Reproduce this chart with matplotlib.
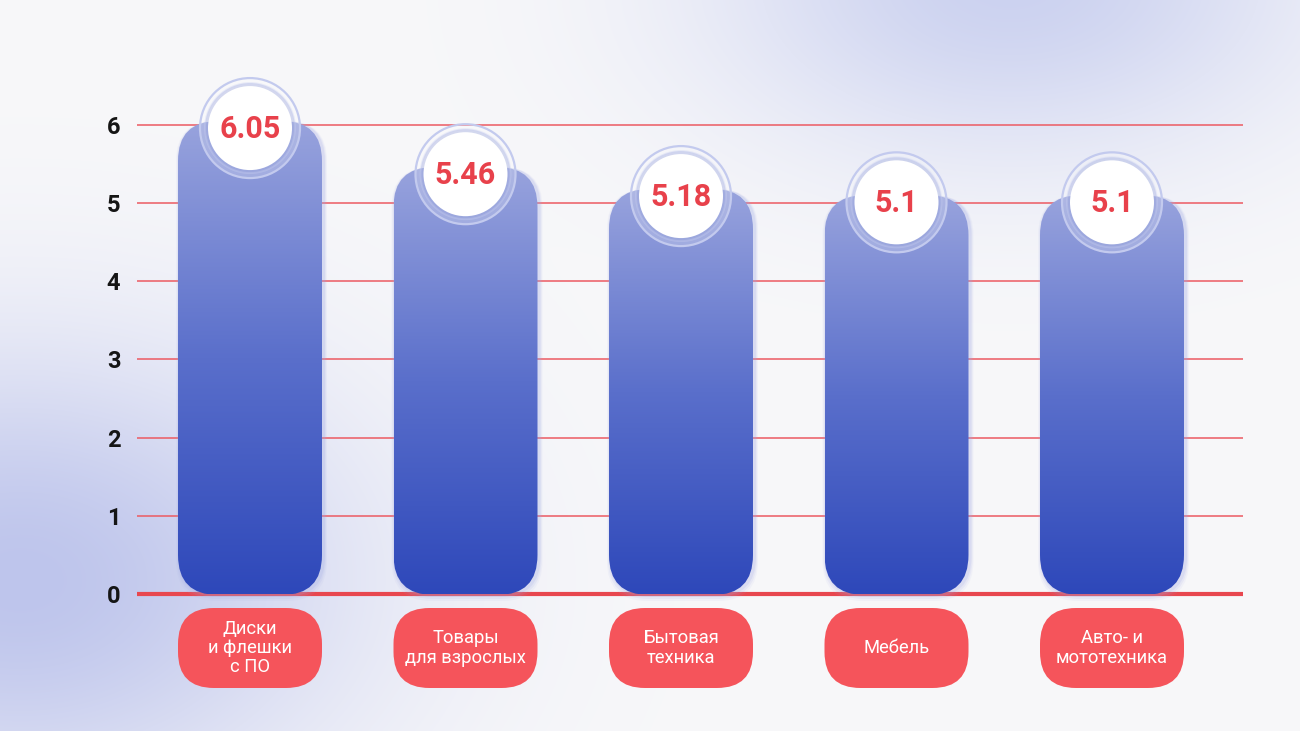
import numpy as np
import matplotlib
matplotlib.use("Agg")
import matplotlib.pyplot as plt
from matplotlib.patches import FancyBboxPatch, Ellipse
from matplotlib.colors import LinearSegmentedColormap

categories = ["Диски\nи флешки\nс ПО", "Товары\nдля взрослых", "Бытовая\nтехника", "Мебель", "Авто- и\nмототехника"]
values = [6.05, 5.46, 5.18, 5.1, 5.1]
value_labels = ["6.05", "5.46", "5.18", "5.1", "5.1"]
yticks = [0, 1, 2, 3, 4, 5, 6]

W, H = 1300, 731
fig = plt.figure(figsize=(13, 7.31), dpi=100)

# background with soft lavender blobs
bg = fig.add_axes([0, 0, 1, 1])
bg.set_axis_off()
yy, xx = np.mgrid[0:H, 0:W]
base = np.array([248, 248, 250]) / 255.0
img = np.ones((H, W, 3)) * base
for (cx, cy, sx, sy, col) in [(1010, -20, 300, 180, (204, 210, 240)),
                              (20, 580, 330, 230, (190, 197, 236))]:
    g = np.exp(-(((xx - cx) / sx) ** 2 + ((yy - cy) / sy) ** 2))[..., None]
    c = np.array(col) / 255.0
    img = img * (1 - g) + c * g
bg.imshow(img, extent=[0, W, H, 0], aspect="auto")
bg.set_xlim(0, W)
bg.set_ylim(H, 0)

# main axes, pixel geometry
px_x = 215.5  # pixels per category unit
px_y = 78.17  # pixels per value unit
ax_left, ax_right = 137, 1243
x0 = -(250 - ax_left) / px_x
x1 = x0 + (ax_right - ax_left) / px_x
ylo, yhi = -1.6, 7.0
top_px = 594 - yhi * px_y
bot_px = 594 - ylo * px_y
ax = fig.add_axes([ax_left / W, (H - bot_px) / H, (ax_right - ax_left) / W, (bot_px - top_px) / H])
ax.set_xlim(x0, x1)
ax.set_ylim(ylo, yhi)
ax.patch.set_alpha(0)
for s in ax.spines.values():
    s.set_visible(False)

for t in yticks[1:]:
    ax.axhline(t, color="#EC5A62", lw=1.1, zorder=1)
ax.axhline(0, color="#E8474F", lw=3, zorder=1)

ax.set_yticks(yticks)
ax.set_yticklabels([str(t) for t in yticks], fontfamily="Roboto", fontweight="bold", fontsize=17, color="#151515")
ax.tick_params(axis="y", length=0, pad=12)
ax.set_xticks([])

asp = px_x / px_y
bw = 144 / px_x
rad = 40 / px_x
grad = np.linspace(0, 1, 256)[:, None]
cmap = LinearSegmentedColormap.from_list("barg", ["#2E48BA", "#5A6FCB", "#98A3DD"])

r_out = 50
r_mid = 45
r_in = 42
for i, (v, lab, cat) in enumerate(zip(values, value_labels, categories)):
    # soft glow (several faint layers)
    for k, a in [(6, 0.08), (4, 0.12), (2, 0.18)]:
        glow = FancyBboxPatch((i - bw / 2 - (k / 2 - 1) / px_x, -(k + 1) / px_y), bw + (k + 1) / px_x, v + (k + 1) / px_y,
                              boxstyle=f"round,pad=0,rounding_size={rad}", mutation_aspect=asp,
                              fc="#9FA9E4", ec="none", alpha=a, zorder=2)
        ax.add_patch(glow)
    bar = FancyBboxPatch((i - bw / 2, -1 / px_y), bw, v + 1 / px_y,
                         boxstyle=f"round,pad=0,rounding_size={rad}", mutation_aspect=asp,
                         fc="none", ec="none", zorder=3)
    ax.add_patch(bar)
    im = ax.imshow(grad, extent=[i - bw / 2, i + bw / 2, 0, v], origin="lower", cmap=cmap,
                   aspect="auto", zorder=3)
    im.set_clip_path(bar)

    # value badge
    cy = v - 7 / px_y
    ax.add_patch(Ellipse((i, cy), 2 * r_out / px_x, 2 * r_out / px_y, fc="white", alpha=0.22,
                         ec="none", zorder=4))
    ax.add_patch(Ellipse((i, cy), 2 * r_out / px_x, 2 * r_out / px_y, fc="none",
                         ec="#C3CAEE", lw=1.6, zorder=4))
    ax.add_patch(Ellipse((i, cy), 2 * r_mid / px_x, 2 * r_mid / px_y, fc="#8F9CDA", alpha=0.35,
                         ec="#C9CFF1", lw=1.4, zorder=4))
    ax.add_patch(Ellipse((i, cy), 2 * r_in / px_x, 2 * r_in / px_y, fc="white", ec="none", zorder=5))
    ax.text(i, cy - 1 / px_y, lab, ha="center", va="center", fontfamily="Roboto", fontweight="bold",
            fontsize=22, color="#E8414B", zorder=6)

    # category pill
    ytop = -14 / px_y
    ybot = -94 / px_y
    pill = FancyBboxPatch((i - bw / 2, ybot), bw, ytop - ybot,
                          boxstyle=f"round,pad=0,rounding_size={36 / px_x}", mutation_aspect=asp,
                          fc="#F5545B", ec="none", zorder=3)
    ax.add_patch(pill)
    ax.text(i, (ytop + ybot) / 2, cat, ha="center", va="center", fontfamily="Roboto",
            fontsize=13.2, color="white", linespacing=1.08, zorder=4)

fig.savefig("out.png", dpi=100)
